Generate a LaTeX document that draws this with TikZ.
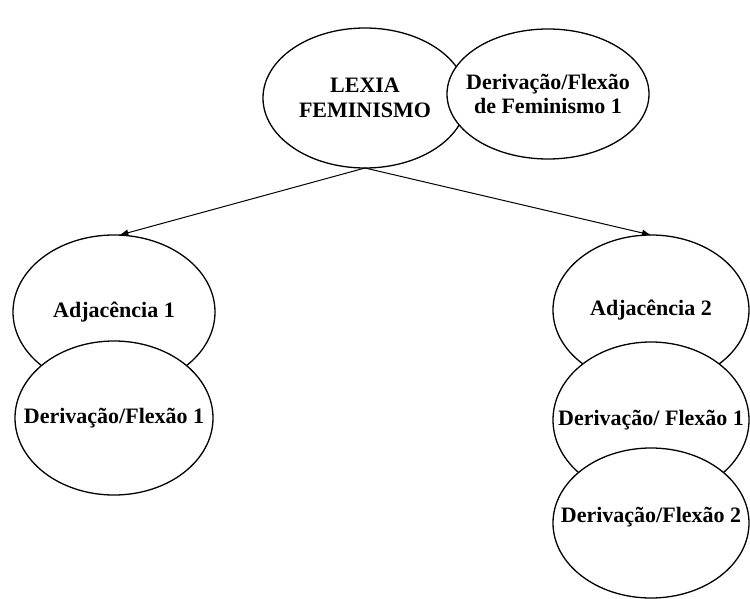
\documentclass[tikz,border=0pt]{standalone}
\usepackage{fontspec}
\setmainfont{Liberation Serif}
\usetikzlibrary{shapes.geometric,arrows.meta}
\begin{document}
\begin{tikzpicture}[x=1pt,y=-1pt,
  ell/.style={draw,ellipse,fill=white,line width=1.3pt,inner sep=0pt,outer sep=0pt},
  lbl/.style={inner sep=0pt,align=center,font=\fontsize{22}{24.5}\selectfont\bfseries},
  conn/.style={line width=1pt,-{Latex[length=9pt,width=7pt]}}]
\useasboundingbox (0,0) rectangle (750,599);
% top
\node[ell,minimum width=204pt,minimum height=140pt] (lex) at (365,98) {};
\node[lbl] (lext) at (lex.center) {LEXIA\\FEMINISMO};
\node[ell,minimum width=202pt,minimum height=130pt] (dft) at (548,94) {};
\node[lbl] (dftt) at (dft.center) {Derivação/Flexão\\de Feminismo 1};
% left column
\node[ell,minimum width=202pt,minimum height=154pt] (adj1) at (114,312) {};
\node[lbl] (adj1t) at (adj1.center) {Adjacência 1};
\node[ell,minimum width=198pt,minimum height=154pt] (dl1) at (114,418) {};
\node[lbl] (dl1t) at (dl1.center) {Derivação/Flexão 1};
% right column
\node[ell,minimum width=196pt,minimum height=150pt] (adj2) at (651,310) {};
\node[lbl] (adj2t) at (adj2.center) {Adjacência 2};
\node[ell,minimum width=196pt,minimum height=156pt] (dr1) at (651,420) {};
\node[lbl] (dr1t) at (dr1.center) {Derivação/ Flexão 1};
\node[ell,minimum width=196pt,minimum height=150pt] (dr2) at (651,523) {};
\node[lbl] (dr2t) at ([yshift=6pt]dr2.center) {Derivação/Flexão 2};
% arrows
\draw[conn] (lex.south) -- (adj1.86);
\draw[conn] (lex.south) -- (adj2.north);
\end{tikzpicture}
\end{document}
